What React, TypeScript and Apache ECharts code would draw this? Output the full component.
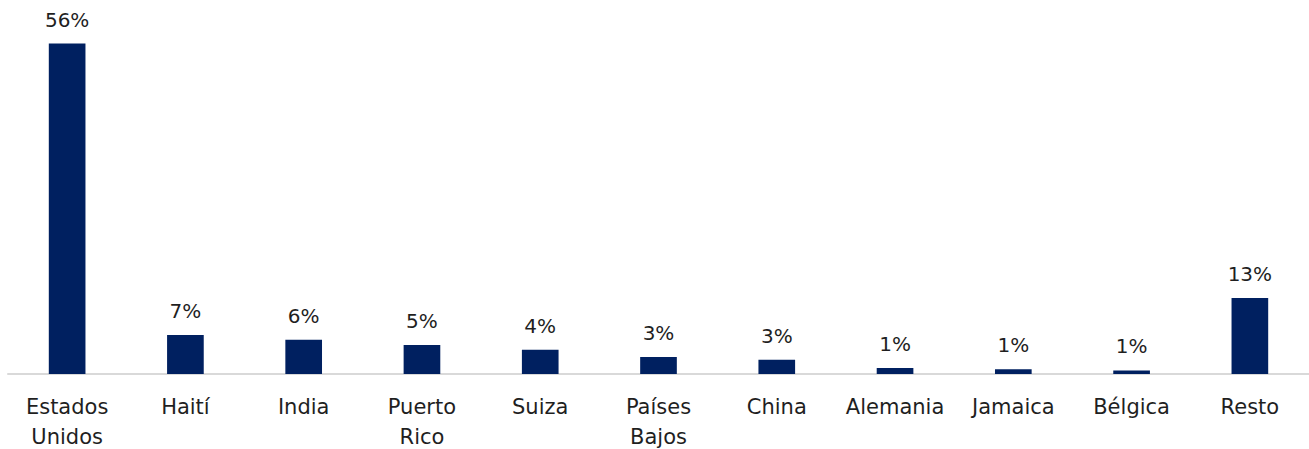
import React, { useEffect, useRef } from "react";
import * as echarts from "echarts";

const categories = [
  "Estados\nUnidos",
  "Haití",
  "India",
  "Puerto\nRico",
  "Suiza",
  "Países\nBajos",
  "China",
  "Alemania",
  "Jamaica",
  "Bélgica",
  "Resto",
];
const values = [56, 6.6, 5.8, 4.9, 4.1, 2.9, 2.4, 1.0, 0.8, 0.6, 12.9];
const valueLabels = ["56%", "7%", "6%", "5%", "4%", "3%", "3%", "1%", "1%", "1%", "13%"];

export default function App() {
  const ref = useRef<HTMLDivElement>(null);
  useEffect(() => {
    if (!ref.current) return;
    const chart = echarts.init(ref.current, null, { renderer: "svg" });
    chart.setOption({
      animation: false,
      backgroundColor: "#ffffff",
      grid: {
        left: 8,
        right: 0,
        top: 20,
        bottom: 75,
        containLabel: false,
        outerBoundsMode: "none",
      },
      xAxis: {
        type: "category",
        data: categories,
        axisLine: { show: true, lineStyle: { color: "#d9d9d9", width: 2 } },
        axisTick: { show: false },
        axisLabel: {
          interval: 0,
          color: "#1f1f1f",
          fontFamily: "DejaVu Sans",
          fontSize: 21,
          lineHeight: 30,
          margin: 18,
        },
      },
      yAxis: {
        type: "value",
        min: 0,
        max: 60,
        show: false,
        splitLine: { show: false },
      },
      series: [
        {
          type: "bar",
          data: values,
          barWidth: "31%",
          itemStyle: { color: "#002060" },
          label: {
            show: true,
            position: "top",
            distance: 14,
            color: "#1f1f1f",
            fontFamily: "DejaVu Sans",
            fontSize: 20,
            formatter: (p: any) => valueLabels[p.dataIndex],
          },
        },
      ],
    });
    return () => chart.dispose();
  }, []);
  return (
    <div
      ref={ref}
      style={{ position: "absolute", left: 0, top: 0, width: 1309, height: 449 }}
    />
  );
}
